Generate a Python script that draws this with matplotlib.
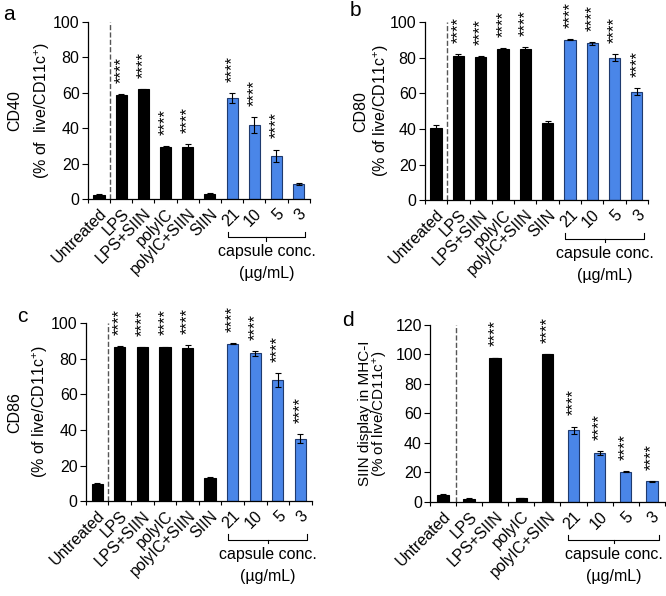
import numpy as np
import matplotlib.pyplot as plt
from matplotlib.transforms import blended_transform_factory

plt.rcParams['font.family'] = ['Liberation Sans', 'DejaVu Sans']
plt.rcParams['mathtext.fontset'] = 'custom'
plt.rcParams['mathtext.rm'] = 'Liberation Sans'
plt.rcParams['mathtext.it'] = 'Liberation Sans'

BLUE = '#4a86e8'
W, H = 666, 596

labels_full = ['Untreated', 'LPS', 'LPS+SIIN', 'polyIC', 'polyIC+SIIN', 'SIIN', '21', '10', '5', '3']
labels_d = ['Untreated', 'LPS', 'LPS+SIIN', 'polyIC', 'polyIC+SIIN', '21', '10', '5', '3']

# CD40
cd40 = [2.5, 59, 62, 29.5, 29.5, 3, 57, 42, 24.5, 8.5]
cd40_err = [0.2, 0.3, 0.3, 0.2, 1.5, 0.4, 3, 4.5, 3.5, 0.7]
cd40_sig = [0, 1, 1, 1, 1, 0, 1, 1, 1, 0]

# CD80
cd80 = [40.5, 81, 80.5, 85, 85, 43.5, 90, 88, 80, 61]
cd80_err = [2, 0.8, 0.4, 0.3, 0.8, 1.2, 0.3, 0.9, 2, 2]
cd80_sig = [0, 1, 1, 1, 1, 0, 1, 1, 1, 1]

# CD86
cd86 = [9.5, 86.5, 86.3, 86.3, 86.2, 13, 88.5, 83, 68, 35]
cd86_err = [0.6, 0.4, 0.3, 0.5, 1.2, 0.7, 0.3, 1.5, 4, 2.5]
cd86_sig = [0, 1, 1, 1, 1, 0, 1, 1, 1, 1]

# SIIN display
siin = [4.5, 2, 97.5, 2.5, 100, 48.5, 33, 20.5, 14]
siin_err = [1, 0.3, 0.3, 0.2, 0.2, 2.5, 1.2, 0.3, 0.3]
siin_sig = [0, 0, 1, 0, 1, 1, 1, 1, 1]
n_capsule = 4

FS = 11.5


def panel(rect, vals, errs, sig, labels, ymax, ylab, ylab_x, ylab_fs, letter, letter_xy, bw):
    ax = fig.add_axes(rect)
    n = len(vals)
    x = np.arange(n)
    colors = ['black'] * (n - n_capsule) + [BLUE] * n_capsule
    edges = ['black'] * (n - n_capsule) + ['#1f3a6e'] * n_capsule
    ax.bar(x, vals, width=bw, color=colors, edgecolor=edges, linewidth=0.8, zorder=2)
    ax.errorbar(x, vals, yerr=errs, fmt='none', ecolor='black', elinewidth=0.8,
                capsize=2, capthick=0.8, zorder=3)
    for xi, v, e, s in zip(x, vals, errs, sig):
        if s:
            ax.annotate('****', (xi, v + e), xytext=(0, 8), textcoords='offset points',
                        rotation=90, ha='center', va='bottom', fontsize=12,
                        annotation_clip=False)
    ax.axvline(0.5, ymin=0, ymax=1, color='#555555', ls='--', lw=1, zorder=1)
    ax.set_xlim(-0.5, n - 0.5)
    ax.set_ylim(0, ymax)
    ax.set_yticks(np.arange(0, ymax + 1, 20))
    ax.set_xticks(x)
    ax.set_xticklabels(labels, rotation=45, ha='right', rotation_mode='anchor', fontsize=FS)
    ax.set_xticks(np.arange(-0.5, n, 1), minor=True)
    ax.tick_params(axis='x', which='major', length=0, pad=5)
    ax.tick_params(axis='x', which='minor', length=3, direction='out', width=0.8)
    ax.tick_params(axis='y', length=4, width=0.8, labelsize=FS, pad=2)
    for side in ['top', 'right']:
        ax.spines[side].set_visible(False)
    for side in ['left', 'bottom']:
        ax.spines[side].set_linewidth(0.9)
    # two-line y label
    yc = rect[1] + rect[3] / 2
    for txt, px in zip(ylab, ylab_x):
        fig.text(px / W, yc, txt, rotation=90, ha='center', va='center', fontsize=ylab_fs)
    # capsule bracket
    tr = blended_transform_factory(ax.transData, ax.transAxes)
    x0, x1 = n - n_capsule - 0.2, n - 1 + 0.3
    yb = -0.215
    ax.plot([x0, x0, x1, x1], [yb + 0.03, yb, yb, yb + 0.03], color='black', lw=0.8,
            transform=tr, clip_on=False)
    xm = (x0 + x1) / 2
    ax.plot([xm, xm], [yb, yb - 0.02], color='black', lw=0.8, transform=tr, clip_on=False)
    ax.text(xm, yb - 0.04, 'capsule conc.', transform=tr, ha='center', va='top', fontsize=FS)
    ax.text(xm, yb - 0.165, '(µg/mL)', transform=tr, ha='center', va='top', fontsize=FS)
    fig.text(letter_xy[0] / W, 1 - letter_xy[1] / H, letter, fontsize=15,
             ha='center', va='center')
    return ax


fig = plt.figure(figsize=(6.66, 5.96), dpi=100)

lab = r'(% of live/CD11c$^{+}$)'
panel([0.132, 0.666, 0.333, 0.297], cd40, cd40_err, cd40_sig, labels_full, 100,
      ['CD40', r'(% of  live/CD11c$^{+}$)'], [15, 42], FS, 'a', (9, 15), 0.5)
panel([0.638, 0.664, 0.335, 0.299], cd80, cd80_err, cd80_sig, labels_full, 100,
      ['CD80', lab], [361, 381], FS, 'b', (355, 11), 0.5)
panel([0.129, 0.159, 0.339, 0.299], cd86, cd86_err, cd86_sig, labels_full, 100,
      ['CD86', lab], [15, 40], FS, 'c', (22, 316), 0.5)
panel([0.646, 0.158, 0.352, 0.297], siin, siin_err, siin_sig, labels_d, 120,
      ['SIIN display in MHC-I', lab], [365, 381], 11, 'd', (348, 320), 0.45)

fig.savefig('out.png', dpi=100)
